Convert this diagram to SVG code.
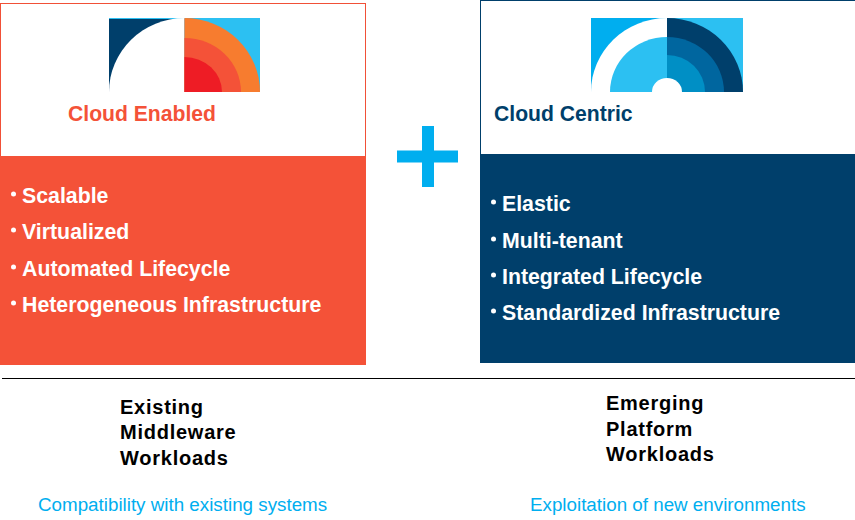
<svg xmlns="http://www.w3.org/2000/svg" width="855" height="520" viewBox="0 0 855 520">
<style>
text{font-family:"Liberation Sans",Arial,sans-serif}
.h{font-size:21.150px;font-weight:700}
.b{font-size:21.300px;font-weight:700;fill:#fff}
.d{fill:#fff}
.w{font-size:20px;font-weight:700;fill:#000;letter-spacing:.75px}
.c{font-size:18.800px;fill:#00aeef}
</style>
<rect width="855" height="520" fill="#fff"/>
<g id="cloud-enabled">
<rect x="0.500" y="3.500" width="365" height="361" fill="#fff" stroke="#f15037"/>
<rect x="0" y="156" width="366" height="209" fill="#f45238"/>
<g id="icon-left">
<rect x="109" y="18" width="151" height="74" fill="#2cc0f2"/>
<rect x="109" y="19" width="75.500" height="73" fill="#003f6b"/>
<path d="M109 92A75.500 74 0 0 1 184.500 18V92Z" fill="#fff"/>
<path d="M184.500 18A75.500 74 0 0 1 260 92H184.500Z" fill="#f77c2f"/>
<path d="M184.500 38A56.500 54 0 0 1 241 92H184.500Z" fill="#f45238"/>
<path d="M184.500 57A37.500 35 0 0 1 222 92H184.500Z" fill="#ee1c25"/>
</g>
<text class="h" x="68" y="121" fill="#f45238">Cloud Enabled</text>
<circle class="d" cx="13.500" cy="194" r="2.500"/><text class="b" x="22" y="203">Scalable</text>
<circle class="d" cx="13.500" cy="230" r="2.500"/><text class="b" x="22" y="239">Virtualized</text>
<circle class="d" cx="13.500" cy="267" r="2.500"/><text class="b" x="22" y="276">Automated Lifecycle</text>
<circle class="d" cx="13.500" cy="303" r="2.500"/><text class="b" x="22" y="312">Heterogeneous Infrastructure</text>
</g>
<g id="plus">
<rect x="397" y="150.500" width="61" height="12" fill="#00aeef"/>
<rect x="422" y="126" width="12" height="61" fill="#00aeef"/>
</g>
<g id="cloud-centric">
<rect x="480.500" y="0.500" width="375" height="362" fill="#fff" stroke="#003f6b"/>
<rect x="480" y="154" width="375" height="209" fill="#003f6b"/>
<g id="icon-right">
<rect x="591" y="18" width="152" height="74" fill="#2cc0f2"/>
<rect x="591" y="18" width="76" height="74" fill="#00aeef"/>
<path d="M591 92A76 74 0 0 1 667 18V92Z" fill="#fff"/>
<path d="M667 18A76 74 0 0 1 743 92H667Z" fill="#003f6b"/>
<path d="M610 92A57 55 0 0 1 667 37V92Z" fill="#2cc0f2"/>
<path d="M667 37A57 55 0 0 1 724 92H667Z" fill="#00669f"/>
<path d="M667 55A38 37 0 0 1 705 92H667Z" fill="#008fc5"/>
<path d="M652 92A15 14 0 0 1 682 92Z" fill="#fff"/>
</g>
<text class="h" x="494" y="121" fill="#003f6b">Cloud Centric</text>
<circle class="d" cx="493.500" cy="202" r="2.500"/><text class="b" x="502" y="211">Elastic</text>
<circle class="d" cx="493.500" cy="239" r="2.500"/><text class="b" x="502" y="248">Multi-tenant</text>
<circle class="d" cx="493.500" cy="275" r="2.500"/><text class="b" x="502" y="284">Integrated Lifecycle</text>
<circle class="d" cx="493.500" cy="311" r="2.500"/><text class="b" x="502" y="320">Standardized Infrastructure</text>
</g>
<g id="connectors"><line x1="2" y1="378.500" x2="855" y2="378.500" stroke="#000"/></g>
<g id="left-caption">
<text class="w" x="120" y="414">Existing</text>
<text class="w" x="120" y="439">Middleware</text>
<text class="w" x="120" y="465">Workloads</text>
<text class="c" x="38" y="511">Compatibility with existing systems</text>
</g>
<g id="right-caption">
<text class="w" x="606" y="410">Emerging</text>
<text class="w" x="606" y="436">Platform</text>
<text class="w" x="606" y="461">Workloads</text>
<text class="c" x="530" y="511">Exploitation of new environments</text>
</g>
</svg>
